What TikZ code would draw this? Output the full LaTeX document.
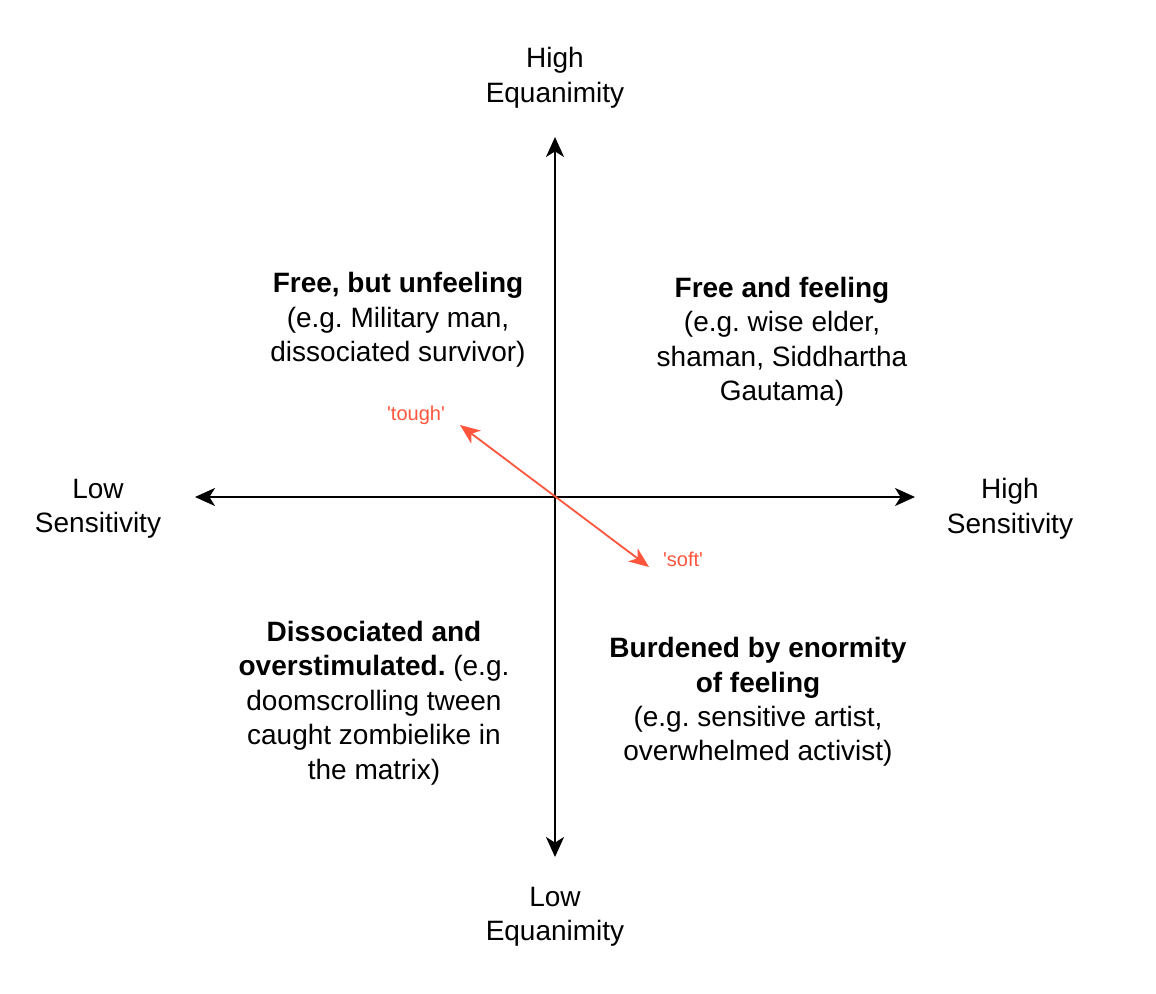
\documentclass[tikz,border=0pt]{standalone}
\usepackage{xcolor}
\usepackage{fontspec}
\setmainfont{Liberation Sans}
\newfontfamily\tagfont[Ligatures=ResetAll]{Liberation Sans}
\usepackage{tikz}
\usetikzlibrary{arrows.meta,positioning}
\frenchspacing

\definecolor{toughred}{HTML}{FF553C}

\tikzset{
  axis/.style={line width=1pt, {Stealth[length=10pt,width=9pt,inset=2.8pt]}-{Stealth[length=10pt,width=9pt,inset=2.8pt]}},
  swing/.style={toughred, line width=0.9pt, {Stealth[length=10pt,width=8pt,inset=2.8pt]}-{Stealth[length=10pt,width=8pt,inset=2.8pt]}},
  lbl/.style={align=center, inner sep=0pt, font=\fontsize{14}{17.25}\selectfont},
  tag/.style={inner sep=0pt, text=toughred, font=\tagfont\fontsize{10}{12}\selectfont},
}

\begin{document}
\begin{tikzpicture}[x=0.5pt, y=-0.5pt]
    \useasboundingbox (0,0) rectangle (1156,994);

    \coordinate (o) at (555,497);
    \coordinate (top) at (555,137);
    \coordinate (bot) at (555,857);
    \coordinate (lft) at (195,497);
    \coordinate (rgt) at (915,497);
    \coordinate (tough) at (460,425);
    \coordinate (soft) at (649,567);

    \draw[axis] (bot) -- (top);
    \draw[axis] (lft) -- (rgt);
    \draw[swing] (tough) -- (soft);

    \node[lbl] (higheq) at (555,78) {High\\Equanimity};
    \node[lbl] (loweq) at (555,917) {Low\\Equanimity};
    \node[lbl] (lowsen) at (98,509) {Low\\Sensitivity};
    \node[lbl] (highsen) at (1010,509) {High\\Sensitivity};

    \node[lbl] (unfeel) at (398,320) {\textbf{Free, but unfeeling}\\(e.g. Military man,\\dissociated survivor)};
    \node[lbl] (feel) at (782,342) {\textbf{Free and feeling}\\(e.g. wise elder,\\shaman, Siddhartha\\Gautama)};
    \node[lbl] (overstim) at (374,703) {\textbf{Dissociated and}\\\textbf{overstimulated.} (e.g.\\doomscrolling tween\\caught zombielike in\\the matrix)};
    \node[lbl] (burden) at (758,702) {\textbf{Burdened by enormity}\\\textbf{of feeling}\\(e.g. sensitive artist,\\overwhelmed activist)};

    \node[tag] (toughlbl) at (416,415) {'tough'};
    \node[tag] (softlbl) at (683,559) {'soft'};
\end{tikzpicture}
\end{document}
